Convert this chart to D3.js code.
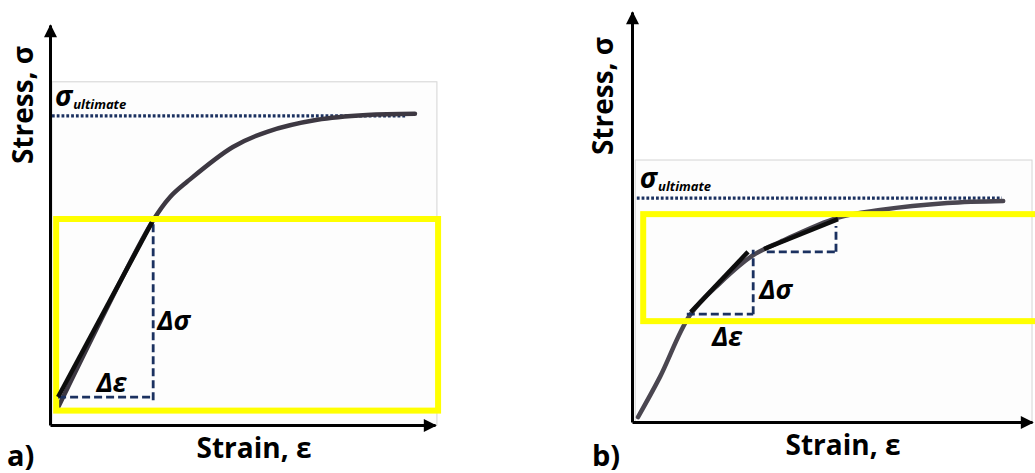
<!DOCTYPE html>
<html><head><meta charset="utf-8">
<script src="https://cdn.jsdelivr.net/npm/d3@7"></script>
<style>
body{margin:0;background:#fff;}
svg{display:block;font-family:"Open Sans",sans-serif;}
</style></head><body>
<svg id="chart" width="1035" height="473"></svg>
<script>
// ---------- text ----------
const panelNames = ["a)", "b)"];
const axisTitleX = "Strain, ε";
const axisTitleY = "Stress, σ";
const ultimateMain = "σ";
const ultimateSub = "ultimate";
const deltaStressLabel = "Δσ";
const deltaStrainLabel = "Δε";

// ---------- panel a (linear elastic region) ----------
const strainA = [0.18, 2.65, 3.12, 3.56, 4.75, 5.64, 6.94, 8.23, 9.48];
const stressA = [0.38, 5.07, 5.70, 6.08, 6.95, 7.33, 7.63, 7.75, 7.78];
const ultimateA = 7.73;
const ultimateSpanA = [0.05, 9.27];
const tangentStrainA = [0.21, 2.65];
const tangentStressA = [0.70, 5.07];
const triStrainA = [0.21, 2.68];
const triStressA = [0.62, 5.05];
const boxStrainA = [0.16, 10.08];
const boxStressA = [0.36, 5.15];
const paperStrainA = [0.05, 10.05];
const paperStressA = [0, 8.58];

// ---------- panel b (non-linear region) ----------
const strainB = [0.15, 0.70, 1.45, 2.20, 3.03, 3.70, 5.13, 6.20, 7.88, 9.28];
const stressB = [0.12, 1.10, 2.61, 3.39, 4.07, 4.39, 4.98, 5.17, 5.34, 5.39];
const ultimateB = 5.46;
const ultimateSpanB = [0.12, 9.25];
const tangentsStrainB = [[1.47, 2.90], [3.30, 5.15]];
const tangentsStressB = [[2.68, 4.15], [4.22, 4.95]];
const trisStrainB = [[1.37, 3.03], [3.37, 5.10]];
const trisStressB = [[2.63, 4.20], [4.15, 4.78]];
const boxStrainB = [0.28, 10.3];
const boxStressB = [2.46, 5.07];
const paperStrainB = [0.08, 10.0];
const paperStressB = [0, 6.39];

// ---------- layout ----------
const svg = d3.select("#chart");
const NAVY = "#1b3160";
const CURVE = "#3d3842";

svg.append("defs").append("marker")
  .attr("id", "arrow").attr("viewBox", "0 0 10 10")
  .attr("refX", 9).attr("refY", 5)
  .attr("markerWidth", 14).attr("markerHeight", 13)
  .attr("markerUnits", "userSpaceOnUse").attr("orient", "auto")
  .append("path").attr("d", "M0,0L10,5L0,10Z").attr("fill", "#000");

const panels = [
  {
    name: panelNames[0],
    x: d3.scaleLinear().domain([0, 10]).range([50, 435]),
    y: d3.scaleLinear().domain([0, 10]).range([425, 25]),
    strain: strainA, stress: stressA, ult: ultimateA, ultSpan: ultimateSpanA,
    tangents: [[tangentStrainA, tangentStressA]],
    tris: [[triStrainA, triStressA]],
    box: [boxStrainA, boxStressA], paper: [paperStrainA, paperStressA],
    nameX: 7, titleXc: 254, titleYc: 105, yTitleX: 25,
    curveColor: CURVE
  },
  {
    name: panelNames[1],
    x: d3.scaleLinear().domain([0, 10]).range([632, 1032]),
    y: d3.scaleLinear().domain([0, 10]).range([422, 12]),
    strain: strainB, stress: stressB, ult: ultimateB, ultSpan: ultimateSpanB,
    tangents: tangentsStrainB.map((s, i) => [s, tangentsStressB[i]]),
    tris: trisStrainB.map((s, i) => [s, trisStressB[i]]),
    box: [boxStrainB, boxStressB], paper: [paperStrainB, paperStressB],
    nameX: 592, titleXc: 843, titleYc: 96, yTitleX: 605,
    curveColor: "#4a4650"
  }
];

panels.forEach((p, pi) => {
  const g = svg.append("g");
  const x = p.x, y = p.y;

  // scanned paper background
  g.append("rect")
    .attr("x", x(p.paper[0][0])).attr("y", y(p.paper[1][1]))
    .attr("width", x(p.paper[0][1]) - x(p.paper[0][0]))
    .attr("height", y(p.paper[1][0]) - y(p.paper[1][1]))
    .attr("fill", "#fdfdfd").attr("stroke", "#d4d4d4").attr("stroke-width", 1);

  // ultimate stress line
  g.append("line")
    .attr("x1", x(p.ultSpan[0])).attr("x2", x(p.ultSpan[1]))
    .attr("y1", y(p.ult)).attr("y2", y(p.ult))
    .attr("stroke", NAVY).attr("stroke-width", 3.2)
    .attr("stroke-dasharray", "2.8,2");

  // ultimate label
  const ul = g.append("text")
    .attr("x", x(p.ultSpan[0]) + 3).attr("y", y(p.ult) - 10)
    .attr("font-weight", 700).attr("font-style", "italic").attr("fill", "#000");
  ul.append("tspan").attr("font-size", 28).text(ultimateMain);
  ul.append("tspan").attr("font-size", 13).attr("dx", 1).attr("dy", 3).text(ultimateSub);

  // stress-strain curve
  const pts = p.strain.map((s, i) => [s, p.stress[i]]);
  const line = d3.line().x(d => x(d[0])).y(d => y(d[1])).curve(d3.curveCatmullRom.alpha(0.5));
  g.append("path").attr("d", line(pts)).attr("fill", "none")
    .attr("stroke", p.curveColor).attr("stroke-width", 4.5)
    .attr("stroke-linecap", "round").attr("stroke-linejoin", "round");

  // yellow highlight
  g.append("rect")
    .attr("x", x(p.box[0][0])).attr("y", y(p.box[1][1]))
    .attr("width", x(p.box[0][1]) - x(p.box[0][0]))
    .attr("height", y(p.box[1][0]) - y(p.box[1][1]))
    .attr("fill", "none").attr("stroke", "#ffff00").attr("stroke-width", 6);

  // dashed triangles
  p.tris.forEach(([s, t]) => {
    const yh = y(t[0]) + (pi === 0 ? -3 : 0);
    g.append("path")
      .attr("d", `M${x(s[0])},${yh}H${x(s[1])}` +
                 `M${x(s[1])},${y(t[0])}V${y(t[1])}`)
      .attr("fill", "none").attr("stroke", NAVY).attr("stroke-width", 2.8)
      .attr("stroke-dasharray", "8,4");
  });

  // tangent lines
  p.tangents.forEach(([s, t]) => {
    g.append("line")
      .attr("x1", x(s[0])).attr("y1", y(t[0]))
      .attr("x2", x(s[1])).attr("y2", y(t[1]))
      .attr("stroke", "#0d0d0d").attr("stroke-width", 4.5);
  });

  // delta labels (first triangle)
  const [ts, tt] = p.tris[0];
  const dStyle = sel => sel.attr("font-weight", 700).attr("font-style", "italic")
    .attr("font-size", 27).attr("fill", "#000");
  if (pi === 0) {
    g.append("text").call(dStyle).attr("x", x(ts[1]) + 4).attr("y", 330).text(deltaStressLabel);
    g.append("text").call(dStyle).attr("x", (x(ts[0]) + x(ts[1])) / 2 + 6).attr("y", y(tt[0]) - 8)
      .attr("text-anchor", "middle").text(deltaStrainLabel);
  } else {
    g.append("text").call(dStyle).attr("x", x(ts[1]) + 6).attr("y", 299).text(deltaStressLabel);
    g.append("text").call(dStyle).attr("x", (x(ts[0]) + x(ts[1])) / 2 + 7).attr("y", y(tt[0]) + 32)
      .attr("text-anchor", "middle").text(deltaStrainLabel);
  }

  // axes
  const ax = g.append("g").attr("transform", `translate(0,${y(0)})`)
    .call(d3.axisBottom(x).tickValues([]).tickSizeOuter(0));
  const ay = g.append("g").attr("transform", `translate(${x(0)},0)`)
    .call(d3.axisLeft(y).tickValues([]).tickSizeOuter(0));
  [ax, ay].forEach(a => a.select(".domain")
    .attr("stroke", "#000").attr("stroke-width", 3).attr("marker-end", "url(#arrow)"));

  // axis titles
  g.append("text").attr("x", p.titleXc).attr("y", y(0) + 33)
    .attr("text-anchor", "middle").attr("font-weight", 700).attr("font-size", 28)
    .attr("fill", "#000").text(axisTitleX);
  g.append("text")
    .attr("transform", `translate(${p.yTitleX + 8},${p.titleYc}) rotate(-90)`)
    .attr("text-anchor", "middle").attr("font-weight", 700).attr("font-size", 28)
    .attr("fill", "#000").text(axisTitleY);

  // panel letter
  g.append("text").attr("x", p.nameX).attr("y", 466)
    .attr("font-weight", 700).attr("font-size", 29).attr("fill", "#000").text(p.name);
});
</script>
</body></html>
